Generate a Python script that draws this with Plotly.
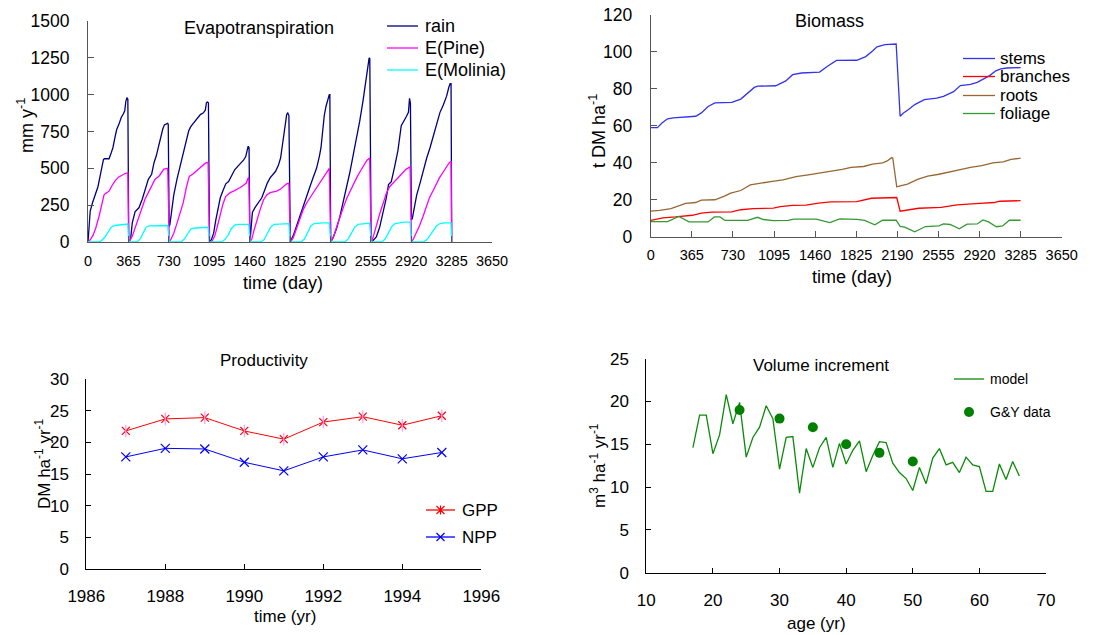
import plotly.graph_objects as go

W, H = 1095, 635
FONT = "Arial, Liberation Sans, sans-serif"

# ---------------- Evapotranspiration (cumulative mm per year) ----------------
rain_day = [0, 8, 20, 40, 65, 90, 110, 125, 140, 150, 190, 205, 225, 245, 260, 280, 300, 320, 332, 342, 352, 360,
            368, 385, 400, 425, 460, 490, 515, 545, 575, 597, 617, 637, 660, 675, 690, 705, 720, 725,
            733, 740, 755, 775, 805, 830, 860, 890, 910, 930, 955, 985, 1015, 1040, 1060, 1070, 1078, 1088,
            1098, 1115, 1135, 1155, 1175, 1195, 1220, 1245, 1270, 1295, 1325, 1355, 1385, 1405, 1425, 1437, 1447, 1455,
            1463, 1470, 1485, 1510, 1540, 1570, 1595, 1620, 1645, 1670, 1695, 1720, 1740, 1755, 1770, 1785, 1795, 1805, 1815,
            1828, 1855, 1885, 1915, 1945, 1975, 2005, 2035, 2065, 2090, 2105, 2120, 2135, 2150, 2165, 2180, 2185,
            2193, 2215, 2245, 2275, 2305, 2335, 2365, 2395, 2425, 2455, 2485, 2510, 2525, 2540, 2546,
            2558, 2575, 2605, 2635, 2665, 2695, 2715, 2740, 2770, 2800, 2830, 2855, 2875, 2895, 2905, 2913,
            2922, 2930, 2945, 2970, 3000, 3030, 3060, 3090, 3120, 3150, 3180, 3210, 3240, 3260, 3272, 3280,
            3286]
rain_mm = [0, 120, 210, 265, 320, 375, 450, 520, 560, 565, 565, 595, 640, 715, 765, 800, 845, 870, 890, 955, 980, 970,
           0, 20, 130, 205, 232, 290, 355, 425, 460, 540, 585, 650, 710, 765, 795, 800, 805, 800,
           105, 120, 200, 320, 430, 510, 600, 680, 755, 785, 810, 840, 865, 875, 895, 945, 950, 945,
           0, 15, 60, 150, 240, 300, 350, 395, 410, 450, 490, 515, 540, 555, 580, 630, 650, 640,
           0, 60, 200, 235, 265, 300, 350, 400, 435, 460, 480, 520, 570, 650, 740, 830, 865, 875, 860,
           0, 45, 110, 180, 240, 310, 375, 440, 500, 580, 640, 750, 860, 920, 965, 1000, 1000,
           0, 30, 90, 170, 260, 370, 470, 580, 700, 820, 960, 1080, 1170, 1250, 1245,
           0, 10, 35, 100, 190, 300, 390, 410, 510, 620, 790, 820, 850, 880, 975, 940,
           150, 160, 230, 320, 400, 490, 570, 640, 720, 800, 880, 930, 990, 1050, 1075, 1075,
           0]

pine_day = [0, 20, 45, 70, 100, 125, 145, 160, 190, 215, 245, 275, 305, 335, 360,
            368, 400, 430, 460, 490, 515, 545, 575, 605, 645, 685, 720,
            735, 750, 775, 805, 835, 860, 890, 915, 945, 990, 1030, 1060, 1085,
            1098, 1120, 1145, 1170, 1195, 1220, 1245, 1285, 1315, 1345, 1375, 1405, 1430, 1445, 1453,
            1463, 1480, 1500, 1525, 1555, 1585, 1615, 1645, 1675, 1705, 1740, 1770, 1795, 1815,
            1828, 1855, 1885, 1915, 1945, 1975, 2005, 2035, 2065, 2095, 2125, 2155, 2180,
            2193, 2220, 2250, 2280, 2310, 2340, 2370, 2400, 2430, 2460, 2490, 2520, 2545,
            2558, 2575, 2605, 2635, 2665, 2695, 2725, 2755, 2795, 2835, 2875, 2910,
            2923, 2940, 2965, 2995, 3025, 3055, 3085, 3115, 3145, 3175, 3205, 3235, 3265, 3280,
            3286]
pine_mm = [0, 15, 45, 95, 175, 260, 320, 330, 345, 380, 415, 440, 455, 465, 470,
           0, 40, 105, 175, 230, 290, 335, 380, 425, 450, 495, 500,
           0, 20, 60, 130, 200, 265, 375, 445, 460, 490, 520, 535, 540,
           0, 5, 40, 110, 190, 260, 310, 335, 345, 355, 370, 385, 400, 430, 440,
           0, 20, 80, 150, 220, 285, 320, 335, 338, 345, 360, 380, 395, 400,
           0, 30, 90, 160, 220, 265, 300, 335, 370, 405, 435, 475, 500,
           0, 40, 110, 180, 240, 300, 350, 400, 440, 480, 520, 555, 570,
           0, 30, 120, 190, 260, 330, 375, 400, 430, 460, 495, 510,
           0, 20, 60, 110, 170, 240, 300, 345, 395, 435, 470, 505, 540, 545,
           0]

molinia_day = [0, 90, 120, 150, 180, 210, 240, 280, 320, 360,
               368, 445, 475, 495, 525, 555, 615, 665, 720,
               735, 840, 870, 900, 930, 970, 1030, 1085,
               1098, 1205, 1235, 1265, 1295, 1325, 1355, 1395, 1453,
               1463, 1560, 1590, 1620, 1650, 1680, 1720, 1760, 1815,
               1828, 1925, 1955, 1985, 2015, 2045, 2085, 2125, 2180,
               2193, 2320, 2350, 2380, 2410, 2440, 2490, 2545,
               2558, 2655, 2685, 2715, 2745, 2775, 2815, 2855, 2910,
               2923, 3030, 3060, 3090, 3120, 3150, 3180, 3220, 3280,
               3286]
molinia_mm = [0, 0, 8, 30, 65, 100, 112, 117, 120, 122,
              0, 0, 25, 60, 100, 110, 112, 112, 112,
              0, 0, 20, 60, 90, 95, 98, 100,
              0, 0, 15, 45, 90, 115, 120, 120, 120,
              0, 0, 15, 55, 100, 120, 122, 125, 125,
              0, 0, 20, 70, 110, 125, 128, 130, 130,
              0, 0, 20, 60, 100, 120, 125, 128,
              0, 0, 20, 65, 105, 125, 130, 135, 135,
              0, 0, 15, 45, 80, 110, 125, 130, 130,
              0]

# ---------------- Biomass (t DM / ha) ----------------
stems_day = [0, 60, 100, 150, 200, 320, 400, 450, 510, 570, 720, 800, 860, 920, 950,
             1110, 1200, 1260, 1340, 1500, 1570, 1650, 1830, 1910, 1970, 2010, 2080, 2180,
             2215, 2245, 2290, 2345, 2430, 2540, 2600, 2690, 2750, 2840, 2900, 2950, 3010, 3065, 3110, 3160, 3285]
stems = [59, 59, 61.5, 63.8, 64.3, 64.8, 65.2, 67, 70.5, 72.4, 72.7, 74.5, 77.5, 80.8, 81.5,
         81.7, 84.3, 87.7, 88.6, 89.1, 92.3, 95.4, 95.5, 97.5, 100.5, 102.8, 104, 104.3,
         65.2, 67, 68.8, 71.5, 74.2, 75, 76, 78.5, 81.8, 82.5, 83.5, 85, 87.2, 89.8, 90.8, 91.3, 91.5]

branches_day = [0, 60, 110, 220, 370, 450, 540, 720, 800, 910, 1090, 1150, 1260, 1380, 1490,
                1600, 1830, 1960, 2170, 2185, 2215, 2290, 2380, 2580, 2720, 2920, 3050, 3100, 3285]
branches = [8.8, 9.5, 10.2, 10.7, 11.6, 12.8, 13.3, 13.4, 14.6, 15.2, 15.5, 16.3, 17, 17.1, 18.2,
            18.8, 19, 20.8, 21.2, 21.2, 13.8, 14.7, 15.4, 15.9, 17.2, 18, 18.5, 19.2, 19.5]

roots_day = [0, 80, 180, 310, 400, 450, 570, 650, 710, 800, 885, 970, 1080, 1175, 1290,
             1400, 1490, 1600, 1700, 1780, 1890, 1970, 2060, 2100, 2140, 2150, 2185, 2200, 2280, 2370,
             2460, 2560, 2680, 2760, 2840, 2940, 3040, 3130, 3200, 3285]
roots = [13.8, 14.2, 15.2, 18, 18.5, 19.8, 20, 21.8, 23.6, 25, 28, 29, 30, 30.8, 32.5,
         33.5, 34.3, 35.3, 36.4, 37.5, 38, 39.3, 40, 41, 42.8, 42.5, 27, 27.2, 28.5, 31,
         32.8, 33.8, 35.6, 36.5, 37.5, 38.5, 40, 40.5, 41.8, 42.5]

foliage_day = [0, 150, 250, 340, 510, 565, 615, 660, 860, 950, 1000, 1090, 1220, 1270, 1470,
               1590, 1680, 1830, 1900, 1990, 2060, 2180, 2215, 2255, 2345, 2440, 2560, 2600, 2660, 2740,
               2810, 2900, 2950, 3000, 3070, 3125, 3185, 3285]
foliage = [8.2, 8.2, 11, 8, 8, 10.7, 10.7, 8.8, 8.8, 10.5, 9.3, 8.7, 8.8, 9.5, 9.5,
           7.6, 9.6, 9.4, 8.8, 6.4, 8.9, 8.9, 5.6, 5.2, 2.6, 5.5, 5.9, 6.9, 6.6, 4.3,
           6.8, 6.9, 9.1, 8.0, 5.4, 5.8, 8.9, 8.9]

# ---------------- Productivity (t DM / ha / yr) ----------------
prod_year = [1987, 1988, 1989, 1990, 1991, 1992, 1993, 1994, 1995]
gpp = [21.8, 23.7, 23.9, 21.8, 20.5, 23.2, 24.05, 22.7, 24.2]
npp = [17.7, 19.05, 18.95, 16.85, 15.5, 17.7, 18.8, 17.4, 18.4]

# ---------------- Volume increment (m3 / ha / yr) ----------------
model_age = list(range(17, 67))
model_vi = [14.6, 18.4, 18.4, 13.9, 16.1, 20.8, 17.4, 19.9, 13.5, 15.8,
            17.0, 19.5, 18.0, 12.1, 15.8, 15.9, 9.3, 14.5, 12.3, 14.6,
            15.8, 12.3, 15.1, 12.7, 14.3, 15.4, 11.8, 13.7, 15.3, 15.2,
            12.8, 11.7, 11.0, 9.6, 12.3, 10.4, 13.4, 14.5, 12.6, 12.9,
            11.7, 13.5, 12.6, 12.4, 9.5, 9.5, 12.7, 10.9, 13.0, 11.3]
gy_age = [24, 30, 35, 40, 45, 50]
gy_vi = [19, 18, 17, 15, 14, 13]

# ---------------- helpers: pixel -> paper ----------------
def fx(p):
    return p / W


def fy(p):
    return 1 - p / H


TOP_AXIS = "#555555"
BOT_AXIS = "#000000"


def axis_style(color, size, ticklen, standoff):
    return dict(showline=True, linecolor=color, linewidth=1, ticks="inside", ticklen=ticklen,
                tickcolor=color, tickwidth=1, showgrid=False, zeroline=False, automargin=False,
                tickangle=0, tickfont=dict(family=FONT, size=size, color="black"),
                ticklabelstandoff=standoff, fixedrange=True)


fig = go.Figure()

# Evapotranspiration
fig.add_trace(go.Scatter(x=rain_day, y=rain_mm, mode="lines", line=dict(color="#000080", width=1.3),
                         xaxis="x", yaxis="y"))
fig.add_trace(go.Scatter(x=pine_day, y=pine_mm, mode="lines", line=dict(color="#FF00FF", width=1.3),
                         xaxis="x", yaxis="y"))
fig.add_trace(go.Scatter(x=molinia_day, y=molinia_mm, mode="lines", line=dict(color="#00FFFF", width=1.3),
                         xaxis="x", yaxis="y"))

# Biomass
for xs, ys, col in [(stems_day, stems, "#3333EE"), (branches_day, branches, "#FF0000"),
                    (roots_day, roots, "#996633"), (foliage_day, foliage, "#339933")]:
    fig.add_trace(go.Scatter(x=xs, y=ys, mode="lines", line=dict(color=col, width=1.3),
                             xaxis="x2", yaxis="y2"))

# Productivity
fig.add_trace(go.Scatter(x=prod_year, y=gpp, mode="lines+markers", line=dict(color="#FF0000", width=1),
                         marker=dict(symbol="x-thin-open", size=8, line=dict(color="#FF0000", width=1.2)),
                         xaxis="x3", yaxis="y3"))
fig.add_trace(go.Scatter(x=prod_year, y=gpp, mode="markers",
                         marker=dict(symbol="line-ns-open", size=9, line=dict(color="#FF0000", width=1.2)),
                         xaxis="x3", yaxis="y3"))
fig.add_trace(go.Scatter(x=prod_year, y=npp, mode="lines+markers", line=dict(color="#0000FF", width=1),
                         marker=dict(symbol="x-thin-open", size=9, line=dict(color="#0000FF", width=1.2)),
                         xaxis="x3", yaxis="y3"))

# Volume increment
fig.add_trace(go.Scatter(x=model_age, y=model_vi, mode="lines", line=dict(color="#0B8A0B", width=1.3),
                         xaxis="x4", yaxis="y4"))
fig.add_trace(go.Scatter(x=gy_age, y=gy_vi, mode="markers", marker=dict(color="#008000", size=10),
                         xaxis="x4", yaxis="y4"))

layout = dict(
    width=W, height=H, margin=dict(l=0, r=0, t=0, b=0, pad=0, autoexpand=False), autosize=False,
    paper_bgcolor="white", plot_bgcolor="white", showlegend=False,
    font=dict(family=FONT, color="black"),
    xaxis=dict(domain=[fx(88), fx(492)], range=[0, 3650], tickvals=list(range(0, 3651, 365)),
               anchor="y", **axis_style(TOP_AXIS, 14.5, 6, 6)),
    yaxis=dict(domain=[fy(242), fy(21)], range=[0, 1500], dtick=250, anchor="x",
               **axis_style(TOP_AXIS, 17.5, 6, 14)),
    xaxis2=dict(domain=[fx(650.7), fx(1061.7)], range=[0, 3650], tickvals=list(range(0, 3651, 365)),
                anchor="y2", **axis_style(TOP_AXIS, 14.5, 6, 5)),
    yaxis2=dict(domain=[fy(236.7), fy(15)], range=[0, 120], dtick=20, anchor="x2",
                **axis_style(TOP_AXIS, 17.5, 6, 14)),
    xaxis3=dict(domain=[fx(86.3), fx(481.3)], range=[1986, 1996], dtick=2, anchor="y3",
                **axis_style(BOT_AXIS, 17, 5, 12)),
    yaxis3=dict(domain=[fy(569), fy(379)], range=[0, 30], dtick=5, anchor="x3",
                **axis_style(BOT_AXIS, 17, 5, 13)),
    xaxis4=dict(domain=[fx(646.3), fx(1046)], range=[10, 70], dtick=10, anchor="y4",
                **axis_style(BOT_AXIS, 17, 5, 12)),
    yaxis4=dict(domain=[fy(572.7), fy(358.7)], range=[0, 25], dtick=5, anchor="x4",
                **axis_style(BOT_AXIS, 17, 5, 13)),
)
fig.update_layout(**layout)

annotations = []
shapes = []


def text(px, py, s, size, angle=0, anchor="center"):
    annotations.append(dict(x=fx(px), y=fy(py), xref="paper", yref="paper", text=s, showarrow=False,
                            font=dict(family=FONT, size=size, color="black"), textangle=angle,
                            xanchor=anchor, yanchor="middle"))


def legend_line(x0, x1, py, color):
    shapes.append(dict(type="line", xref="paper", yref="paper", x0=fx(x0), x1=fx(x1), y0=fy(py), y1=fy(py),
                       line=dict(color=color, width=1.3)))


# panel titles
text(258.5, 28, "Evapotranspiration", 18)
text(829, 21, "Biomass", 18)
text(263.7, 360, "Productivity", 17)
text(821, 365, "Volume increment", 17)

# axis titles
text(283, 283, "time (day)", 18)
text(852, 277, "time (day)", 18)
text(285, 616, "time (yr)", 17)
text(816, 623, "age (yr)", 17)
text(25, 126, "mm y<sup>-1</sup>", 18, angle=-90)
text(597, 131, "t DM ha<sup>-1</sup>", 18, angle=-90)
text(43, 464, "DM ha<sup>-1</sup> yr<sup>-1</sup>", 17, angle=-90)
text(598, 466, "m<sup>3</sup> ha<sup>-1</sup> yr<sup>-1</sup>", 17, angle=-90)

# legend: evapotranspiration
for py, lab, col in [(26, "rain", "#000080"), (48, "E(Pine)", "#FF00FF"), (70, "E(Molinia)", "#00FFFF")]:
    legend_line(387, 418, py, col)
    text(423, py, lab, 18, anchor="left")

# legend: biomass
for py, lab, col in [(58.5, "stems", "#3333EE"), (76.5, "branches", "#FF0000"),
                     (95.5, "roots", "#996633"), (113.5, "foliage", "#339933")]:
    legend_line(963, 995, py, col)
    text(998, py, lab, 17, anchor="left")

# legend: productivity
for py, lab, col, star in [(510, "GPP", "#FF0000", True), (537, "NPP", "#0000FF", False)]:
    legend_line(426, 455, py, col)
    cx, r = 440.5, 4
    path = (f"M{fx(cx - r)},{fy(py - r)} L{fx(cx + r)},{fy(py + r)} "
            f"M{fx(cx - r)},{fy(py + r)} L{fx(cx + r)},{fy(py - r)}")
    if star:
        path += f" M{fx(cx)},{fy(py - r - 0.5)} L{fx(cx)},{fy(py + r + 0.5)}"
    shapes.append(dict(type="path", xref="paper", yref="paper", path=path, line=dict(color=col, width=1.2)))
    text(460, py, lab, 17, anchor="left")

# legend: volume increment
legend_line(954, 984, 379, "#0B8A0B")
text(988, 379, "model", 14, anchor="left")
shapes.append(dict(type="circle", xref="paper", yref="paper", x0=fx(964), x1=fx(974), y0=fy(407), y1=fy(417),
                   fillcolor="#008000", line=dict(color="#008000", width=0)))
text(988, 412, "G&amp;Y data", 14, anchor="left")

fig.update_layout(annotations=annotations, shapes=shapes)
fig.write_html("out.html")
